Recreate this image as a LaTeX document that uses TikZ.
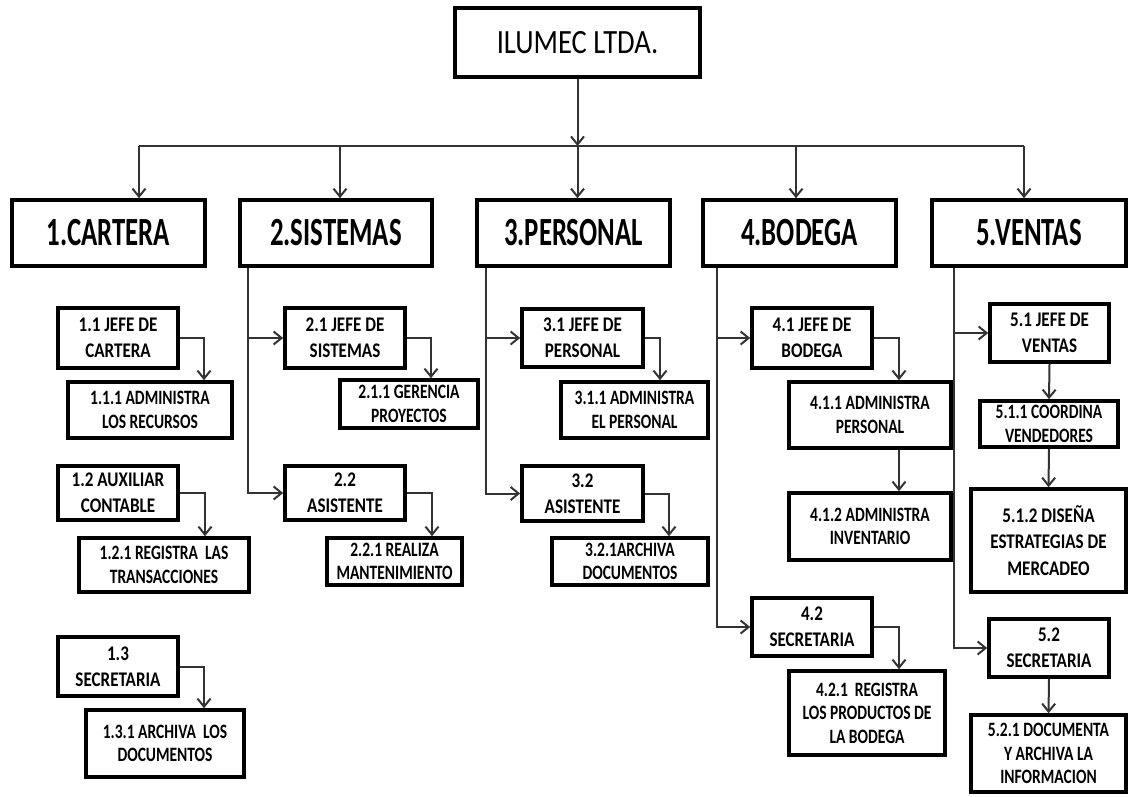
\documentclass[tikz,border=0pt]{standalone}
\usepackage{fontspec}
\setmainfont{Carlito}
\newfontfamily\topf[FakeStretch=0.84]{Carlito}
\newfontfamily\deptf[FakeStretch=0.67]{Carlito}
\newfontfamily\subf[FakeStretch=0.82]{Carlito}
\newfontfamily\leaff[FakeStretch=0.76]{Carlito}
\usetikzlibrary{arrows.meta,shadows,calc}
\tikzset{
  box/.style={draw=black, line width=1.8pt, fill=white, inner sep=0pt, align=center,
    drop shadow={shadow xshift=0.5pt, shadow yshift=-1pt, fill=black!40, opacity=1}},
  topbox/.style={box, font=\topf\fontsize{17}{19}\selectfont},
  deptbox/.style={box, font=\deptf\bfseries\fontsize{20}{22}\selectfont},
  subbox/.style={box, font=\subf\bfseries\fontsize{10.4}{13.2}\selectfont},
  leafbox/.style={box, font=\leaff\bfseries\fontsize{10.2}{11.8}\selectfont},
  conn/.style={draw=black!80, line width=1pt},
  arr/.style={conn, -{Straight Barb[length=4pt,width=6.5pt]}},
}
\newcommand\orgbox[7]{\node[#6, minimum width={(#4-#2)*0.5pt}, minimum height={(#5-#3)*0.5pt}] (#1) at ({(#2+#4)/2},{(#3+#5)/2}) {#7};}
\begin{document}
\begin{tikzpicture}[x=0.5pt,y=-0.5pt]
\useasboundingbox (0,0) rectangle (1129,797);
% boxes
\orgbox{top}{455}{8}{700}{77}{topbox}{ILUMEC LTDA.}
\orgbox{d1}{12}{200}{205}{266}{deptbox}{1.CARTERA}
\orgbox{d2}{240}{200}{432}{266}{deptbox}{2.SISTEMAS}
\orgbox{d3}{477}{200}{670}{266}{deptbox}{3.PERSONAL}
\orgbox{d4}{703}{200}{896}{266}{deptbox}{4.BODEGA}
\orgbox{d5}{932}{200}{1126}{266}{deptbox}{5.VENTAS}
% column 1
\orgbox{n11}{58}{308}{178}{368}{subbox}{1.1 JEFE DE\\CARTERA}
\orgbox{n111}{68}{382}{232}{438}{leafbox}{1.1.1 ADMINISTRA\\LOS RECURSOS}
\orgbox{n12}{58}{466}{178}{520}{subbox}{1.2 AUXILIAR\\CONTABLE}
\orgbox{n121}{79}{538}{249}{592}{leafbox}{1.2.1 REGISTRA~~LAS\\TRANSACCIONES}
\orgbox{n13}{58}{637}{178}{696}{subbox}{1.3\\SECRETARIA}
\orgbox{n131}{86}{710}{244}{777}{leafbox}{1.3.1 ARCHIVA~~LOS\\DOCUMENTOS}
% column 2
\orgbox{n21}{285}{308}{405}{368}{subbox}{2.1 JEFE DE\\SISTEMAS}
\orgbox{n211}{340}{380}{478}{428}{leafbox}{2.1.1 GERENCIA\\PROYECTOS}
\orgbox{n22}{285}{466}{405}{520}{subbox}{2.2\\ASISTENTE}
\orgbox{n221}{327}{538}{462}{585}{leafbox}{2.2.1 REALIZA\\MANTENIMIENTO}
% column 3
\orgbox{n31}{522}{309}{643}{367}{subbox}{3.1 JEFE DE\\PERSONAL}
\orgbox{n311}{561}{382}{708}{438}{leafbox}{3.1.1 ADMINISTRA\\EL PERSONAL}
\orgbox{n32}{522}{466}{643}{521}{subbox}{3.2\\ASISTENTE}
\orgbox{n321}{552}{538}{708}{585}{leafbox}{3.2.1ARCHIVA\\DOCUMENTOS}
% column 4
\orgbox{n41}{752}{308}{872}{368}{subbox}{4.1 JEFE DE\\BODEGA}
\orgbox{n411}{789}{382}{951}{448}{leafbox}{4.1.1 ADMINISTRA\\PERSONAL}
\orgbox{n412}{789}{493}{951}{560}{leafbox}{4.1.2 ADMINISTRA\\INVENTARIO}
\orgbox{n42}{752}{598}{872}{656}{subbox}{4.2\\SECRETARIA}
\orgbox{n421}{789}{671}{945}{755}{leafbox}{4.2.1~~REGISTRA\\LOS PRODUCTOS DE\\LA BODEGA}
% column 5
\orgbox{n51}{990}{304}{1109}{362}{subbox}{5.1 JEFE DE\\VENTAS}
\orgbox{n511}{980}{401}{1118}{447}{leafbox}{5.1.1 COORDINA\\VENDEDORES}
\orgbox{n512}{971}{489}{1126}{592}{subbox}{5.1.2 DISEÑA\\ESTRATEGIAS DE\\MERCADEO}
\orgbox{n52}{989}{619}{1109}{677}{subbox}{5.2\\SECRETARIA}
\orgbox{n521}{971}{715}{1126}{792}{leafbox}{5.2.1 DOCUMENTA\\Y ARCHIVA LA\\INFORMACION}
% bus
\coordinate (busL) at (139,146);
\coordinate (b2) at (340,146);
\coordinate (b3) at (577.5,146);
\coordinate (b4) at (796,146);
\coordinate (busR) at (1024,146);
\draw[arr] (top.south) -- (top.south |- busL);
\draw[conn] (busL) -- (busR);
\draw[arr] (busL) -- (busL |- d1.north);
\draw[arr] (b2) -- (b2 |- d2.north);
\draw[arr] (b3) -- (b3 |- d3.north);
\draw[arr] (b4) -- (b4 |- d4.north);
\draw[arr] (busR) -- (busR |- d5.north);
% department verticals
\coordinate (v2) at (248,0);
\coordinate (v3) at (486,0);
\coordinate (v4) at (717,0);
\coordinate (v5) at (954,0);
\draw[arr] (d2.south -| v2) |- (n22.west);
\draw[arr] (n21.west -| v2) -- (n21.west);
\draw[arr] (d3.south -| v3) |- (n32.west);
\draw[arr] (n31.west -| v3) -- (n31.west);
\draw[arr] (d4.south -| v4) |- (n42.west);
\draw[arr] (n41.west -| v4) -- (n41.west);
\draw[arr] (d5.south -| v5) |- (n52.west);
\draw[arr] (n51.west -| v5) -- (n51.west);
% drops
\draw[arr] (n11.east) -| ([xshift=27pt]n111.north);
\draw[arr] (n12.east) -| ([xshift=20.5pt]n121.north);
\draw[arr] (n13.east) -| ([xshift=19.5pt]n131.north);
\draw[arr] (n21.east) -| ([xshift=11pt]n211.north);
\draw[arr] (n22.east) -| ([xshift=18.75pt]n221.north);
\draw[arr] (n31.east) -| ([xshift=12.75pt]n311.north);
\draw[arr] (n32.east) -| ([xshift=19.5pt]n321.north);
\draw[arr] (n41.east) -| ([xshift=14.5pt]n411.north);
\draw[arr] ([xshift=14.5pt]n411.south) -- ([xshift=14.5pt]n412.north);
\draw[arr] (n42.east) -| ([xshift=16pt]n421.north);
\draw[arr] (n51.south) -- (n511.north);
\draw[arr] (n511.south) -- (n512.north);
\draw[arr] (n52.south) -- (n521.north);
\end{tikzpicture}
\end{document}
